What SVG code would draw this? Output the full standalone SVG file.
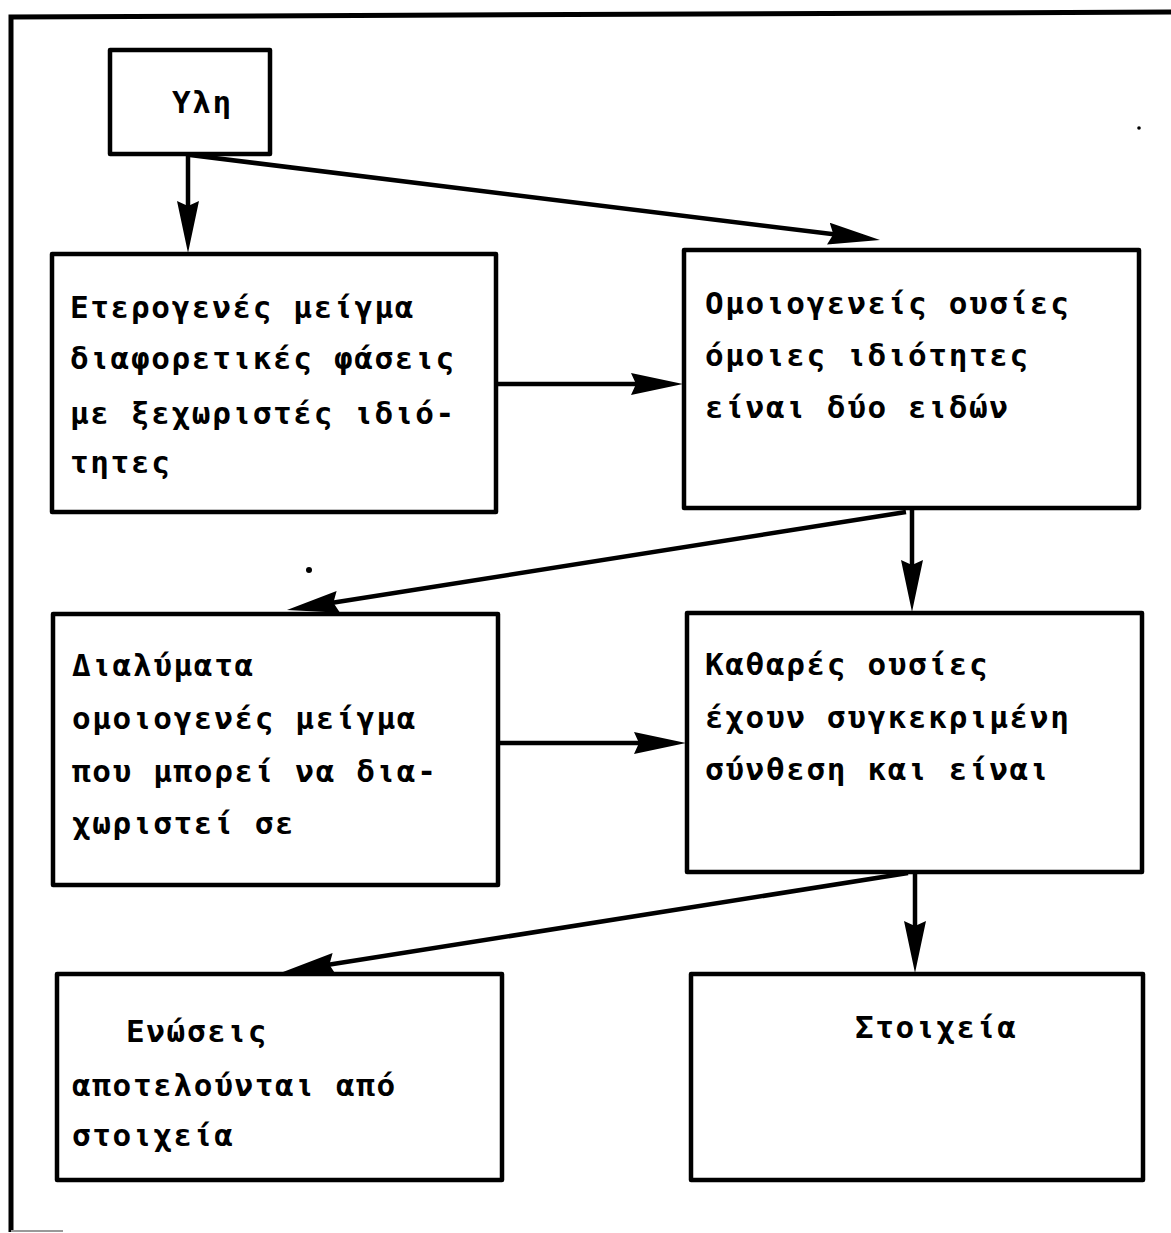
<svg xmlns="http://www.w3.org/2000/svg" width="1171" height="1233" viewBox="0 0 1171 1233">
<style>
.box{fill:#fff;stroke:#000;stroke-width:4.5;stroke-linejoin:round}
.t{font-family:"DejaVu Sans Mono","Liberation Mono",monospace;font-weight:bold;font-size:31px;letter-spacing:1.64px;fill:#000}
.c{fill:none;stroke:#000;stroke-width:4.5;marker-end:url(#ah)}
.frame{fill:none;stroke:#000;stroke-width:5}
</style>
<defs>
<marker id="ah" markerUnits="userSpaceOnUse" viewBox="0 0 52 22" markerWidth="52" markerHeight="22" refX="22" refY="11" orient="auto">
<path d="M0,0 L52,11 L0,22 L5,11 Z" fill="#000"/>
</marker>
</defs>
<rect width="1171" height="1233" fill="#fff"/>
<g id="frame">
<path class="frame" d="M11,1232 L11,17 L1171,12"/>
<line x1="11" y1="1231" x2="63" y2="1231" stroke="#999" stroke-width="2"/>
<circle cx="309" cy="570" r="3" fill="#000"/>
<circle cx="1139" cy="128" r="1.8" fill="#000"/>
</g>
<g id="connectors">
<line class="c" x1="188" y1="155" x2="188" y2="223"/>
<line class="c" x1="190" y1="155" x2="850.2" y2="236.3"/>
<line class="c" x1="497" y1="384" x2="653" y2="384"/>
<line class="c" x1="906" y1="512" x2="316.6" y2="605.3"/>
<line class="c" x1="912" y1="510" x2="912" y2="582"/>
<line class="c" x1="498" y1="743" x2="656" y2="743"/>
<line class="c" x1="908" y1="873" x2="312.6" y2="967.3"/>
<line class="c" x1="915" y1="873" x2="915" y2="943"/>
</g>
<g id="node-yli">
<rect class="box" x="110" y="50" width="160" height="104"/>
<text class="t" x="172" y="113">Υλη</text>
</g>
<g id="node-eterogenes">
<rect class="box" x="52" y="254" width="444" height="258"/>
<text class="t" x="70" y="318">Ετερογενές μείγμα</text>
<text class="t" x="70" y="369">διαφορετικές φάσεις</text>
<text class="t" x="70" y="424">με ξεχωριστές ιδιό-</text>
<text class="t" x="70" y="473">τητες</text>
</g>
<g id="node-omoiogeneis">
<rect class="box" x="684" y="250" width="455" height="258"/>
<text class="t" x="705" y="314">Ομοιογενείς ουσίες</text>
<text class="t" x="705" y="366">όμοιες ιδιότητες</text>
<text class="t" x="705" y="418">είναι δύο ειδών</text>
</g>
<g id="node-dialymata">
<rect class="box" x="53" y="614" width="445" height="271"/>
<text class="t" x="72" y="676">Διαλύματα</text>
<text class="t" x="72" y="729">ομοιογενές μείγμα</text>
<text class="t" x="72" y="782">που μπορεί να δια-</text>
<text class="t" x="72" y="834">χωριστεί σε</text>
</g>
<g id="node-katharés">
<rect class="box" x="687" y="613" width="455" height="259"/>
<text class="t" x="705" y="675">Καθαρές ουσίες</text>
<text class="t" x="705" y="728">έχουν συγκεκριμένη</text>
<text class="t" x="705" y="780">σύνθεση και είναι</text>
</g>
<g id="node-enoseis">
<rect class="box" x="57" y="974" width="445" height="206"/>
<text class="t" x="126" y="1042">Ενώσεις</text>
<text class="t" x="72" y="1096">αποτελούνται από</text>
<text class="t" x="72" y="1146">στοιχεία</text>
</g>
<g id="node-stoicheia">
<rect class="box" x="691" y="974" width="452" height="206"/>
<text class="t" x="855" y="1038">Στοιχεία</text>
</g>
</svg>
